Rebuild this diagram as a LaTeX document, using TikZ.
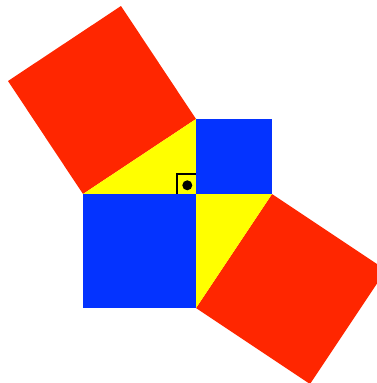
\documentclass[tikz,border=0pt]{standalone}
\definecolor{pyred}{HTML}{FF2600}
\definecolor{pyblue}{HTML}{0433FF}
\definecolor{pyyellow}{HTML}{FFFF00}
\tikzset{
  redsq/.style={fill=pyred},
  bluesq/.style={fill=pyblue},
  yellowtri/.style={fill=pyyellow},
  marker/.style={draw=black,line width=2.2pt},
}
\begin{document}
\begin{tikzpicture}[x=1pt,y=-1pt]
\useasboundingbox (0,0) rectangle (377,383);
\clip (0,0) rectangle (377,383);
% red squares on the hypotenuses
\path[redsq] (83,194) -- (196,119) -- (121,6) -- (8,81) -- cycle;
\path[redsq] (272,194) -- (196,308) -- (310,384) -- (386,270) -- cycle;
% yellow triangles
\path[yellowtri] (83,194) -- (196,119) -- (196,194) -- cycle;
\path[yellowtri] (196,194) -- (272,194) -- (196,308) -- cycle;
% right-angle marker
\draw[marker] (176.8,194) -- (176.8,173.6) -- (196,173.6);
\fill[black] (187.3,185.3) circle (5);
% blue squares on the legs
\path[bluesq] (196,119) rectangle (272,194);
\path[bluesq] (83,194) rectangle (196,308);
\end{tikzpicture}
\end{document}
